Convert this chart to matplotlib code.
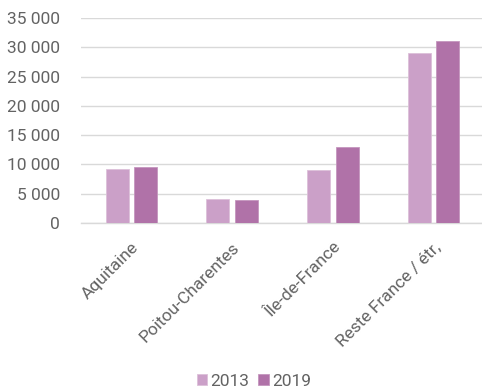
import matplotlib.pyplot as plt
import numpy as np
from matplotlib.ticker import FuncFormatter

# données par région
regions = ["Aquitaine", "Poitou-Charentes", "Île-de-France", "Reste France / étr,"]
annees = ["2013", "2019"]
v2013 = [9300, 4100, 9000, 29100]
v2019 = [9600, 4000, 13000, 31100]
couleurs = ["#CBA0C8", "#B072A8"]
gris_texte = "#636363"

plt.rcParams['font.family'] = ['Roboto', 'DejaVu Sans']

fig = plt.figure(figsize=(4.82, 3.89), dpi=100)
ax = fig.add_axes([81 / 482, 1 - 223 / 389, 403 / 482, 205 / 389])

x = np.arange(len(regions))
larg = 0.228
dec = 0.142
ax.bar(x - dec, v2013, larg, color=couleurs[0], edgecolor="#DCC0D9", linewidth=0.6,
       label=annees[0], zorder=3)
ax.bar(x + dec, v2019, larg, color=couleurs[1], edgecolor="#C596BE", linewidth=0.6,
       label=annees[1], zorder=3)

ax.set_xlim(-0.5, 3.5)
ax.set_ylim(0, 35000)
ax.set_yticks(np.arange(0, 35001, 5000))
ax.yaxis.set_major_formatter(FuncFormatter(lambda v, p: f"{int(v):,}".replace(",", " ")))
ax.grid(axis="y", color="#D9D9D9", linewidth=1.0, zorder=0)

for s in ["top", "right", "left"]:
    ax.spines[s].set_visible(False)
ax.spines["bottom"].set_color("#D9D9D9")
ax.spines["bottom"].set_linewidth(1.0)

ax.tick_params(axis="y", length=0, pad=15, labelsize=12.5, labelcolor=gris_texte)
ax.tick_params(axis="x", length=0, pad=12, labelsize=12.5, labelcolor=gris_texte)
ax.set_xticks(x)
ax.set_xticklabels(regions, rotation=45, ha="right", rotation_mode="anchor")

fig.legend(loc="center", bbox_to_anchor=(254 / 482, 1 - 381 / 389), ncol=2, frameon=False,
           fontsize=12.5, labelcolor=gris_texte, handlelength=0.6, handleheight=0.6,
           handletextpad=0.2, columnspacing=0.5)

fig.savefig("out.png", dpi=100)
